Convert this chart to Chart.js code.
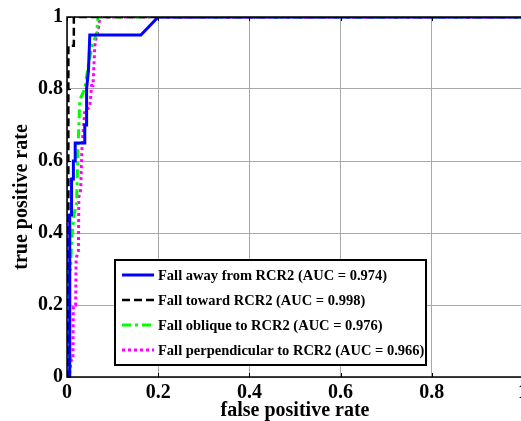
<!DOCTYPE html>
<html>
<head>
<meta charset="utf-8">
<script src="https://cdn.jsdelivr.net/npm/chart.js@4.4.0/dist/chart.umd.min.js"></script>
<style>
  html, body { margin: 0; padding: 0; background: #fff; overflow: hidden; }
  #wrap { width: 521px; height: 421px; overflow: hidden; position: relative; }
  canvas { display: block; }
</style>
</head>
<body>
<div id="wrap"><canvas id="roc" width="527" height="421"></canvas></div>
<script>
// ROC curves
var awayFpr = [0, 0.006, 0.006, 0.01, 0.01, 0.014, 0.014, 0.018, 0.018, 0.039, 0.039, 0.043, 0.043, 0.047, 0.05, 0.162, 0.2, 1];
var awayTpr = [0, 0, 0.45, 0.45, 0.55, 0.55, 0.6, 0.6, 0.65, 0.65, 0.7, 0.7, 0.8, 0.85, 0.95, 0.95, 1, 1];

var towardFpr = [0, 0.003, 0.003, 0.015, 0.015, 1];
var towardTpr = [0, 0, 0.92, 0.92, 1, 1];

var obliqueFpr = [0, 0.003, 0.003, 0.008, 0.01, 0.015, 0.021, 0.024, 0.028, 0.039, 0.046, 0.055, 0.065, 0.068, 1];
var obliqueTpr = [0, 0.05, 0.29, 0.3, 0.38, 0.45, 0.48, 0.63, 0.77, 0.8, 0.86, 0.92, 0.955, 1, 1];

var perpFpr = [0, 0.006, 0.006, 0.01, 0.013, 0.014, 0.019, 0.02, 0.025, 0.026, 0.03, 0.033, 0.039, 0.05, 0.054, 0.057, 0.061, 0.065, 0.068, 0.072, 1];
var perpTpr = [0, 0, 0.02, 0.05, 0.05, 0.2, 0.2, 0.33, 0.35, 0.5, 0.52, 0.64, 0.74, 0.75, 0.81, 0.81, 0.92, 0.95, 0.96, 1, 1];

var seriesLabels = [
    'Fall away from RCR2 (AUC = 0.974)',
    'Fall toward RCR2 (AUC = 0.998)',
    'Fall oblique to RCR2 (AUC = 0.976)',
    'Fall perpendicular to RCR2 (AUC = 0.966)'
];
var tickValues = [0, 0.2, 0.4, 0.6, 0.8, 1];

function pts(xs, ys) {
    return xs.map(function(x, i) { return { x: x, y: ys[i] }; });
}

var serif = '"Liberation Serif", "Times New Roman", serif';

// black box around the plot, inward ticks and the legend inside the plot
var framePlugin = {
    id: 'frame',
    afterDraw: function(chart) {
        var ctx = chart.ctx;
        var a = chart.chartArea;
        var xs = chart.scales.x, ys = chart.scales.y;
        ctx.save();
        ctx.strokeStyle = '#000';
        ctx.lineWidth = 1.5;
        ctx.strokeRect(a.left, a.top, a.right - a.left, a.bottom - a.top);
        ctx.lineWidth = 1;
        ctx.beginPath();
        tickValues.forEach(function(v) {
            var px = Math.round(xs.getPixelForValue(v)) + 0.5;
            ctx.moveTo(px, a.bottom); ctx.lineTo(px, a.bottom - 4);
            ctx.moveTo(px, a.top); ctx.lineTo(px, a.top + 4);
            var py = Math.round(ys.getPixelForValue(v)) + 0.5;
            ctx.moveTo(a.left, py); ctx.lineTo(a.left + 4, py);
        });
        ctx.stroke();

        // legend
        var bx = 115, by = 260, bw = 311, bh = 105;
        ctx.fillStyle = '#fff';
        ctx.fillRect(bx, by, bw, bh);
        ctx.lineWidth = 2;
        ctx.strokeStyle = '#000';
        ctx.strokeRect(bx, by, bw, bh);
        ctx.font = 'bold 14.5px ' + serif;
        ctx.textBaseline = 'middle';
        chart.data.datasets.forEach(function(ds, i) {
            var yy = by + 15 + i * 25;
            ctx.save();
            ctx.strokeStyle = ds.borderColor;
            ctx.lineWidth = ds.borderWidth;
            ctx.setLineDash(ds.borderDash || []);
            ctx.beginPath();
            ctx.moveTo(122, yy);
            ctx.lineTo(154, yy);
            ctx.stroke();
            ctx.restore();
            ctx.fillStyle = '#000';
            ctx.fillText(ds.label, 158, yy + 1);
        });
        ctx.restore();
    }
};

function fmt(v) { return String(v); }

const ctx = document.getElementById('roc').getContext('2d');
const rocChart = new Chart(ctx, {
    type: 'scatter',
    data: {
        datasets: [{
            label: seriesLabels[0],
            data: pts(awayFpr, awayTpr),
            borderColor: '#0000ff',
            borderWidth: 3
        }, {
            label: seriesLabels[1],
            data: pts(towardFpr, towardTpr),
            borderColor: '#000000',
            borderWidth: 2.5,
            borderDash: [8, 4]
        }, {
            label: seriesLabels[2],
            data: pts(obliqueFpr, obliqueTpr),
            borderColor: '#00ff00',
            borderWidth: 3,
            borderDash: [9, 4, 3, 4]
        }, {
            label: seriesLabels[3],
            data: pts(perpFpr, perpTpr),
            borderColor: '#ff00ff',
            borderWidth: 3,
            borderDash: [3, 3]
        }]
    },
    options: {
        responsive: false,
        animation: false,
        devicePixelRatio: 1,
        showLine: true,
        elements: {
            point: { radius: 0, hoverRadius: 0 },
            line: { tension: 0, fill: false }
        },
        // canvas is a bit wider than the page so the right edge is cut off, like the original
        layout: { padding: { top: 17, right: 4, left: 0, bottom: 0 } },
        plugins: {
            legend: { display: false },
            tooltip: { enabled: false }
        },
        scales: {
            x: {
                type: 'linear',
                min: 0,
                max: 1,
                afterBuildTicks: function(scale) {
                    scale.ticks = tickValues.map(function(v) { return { value: v }; });
                },
                afterFit: function(scale) {
                    scale.height = 44;
                    scale.paddingRight = 0;
                    scale.paddingLeft = 0;
                },
                grid: { color: '#a8a8a8', lineWidth: 1, drawTicks: false },
                border: { display: false },
                ticks: {
                    color: '#000',
                    padding: 4,
                    maxRotation: 0,
                    callback: fmt,
                    font: { family: serif, size: 20, weight: 'bold' }
                },
                title: {
                    display: true,
                    text: 'false positive rate',
                    color: '#000',
                    font: { family: serif, size: 20, weight: 'bold', lineHeight: 1 },
                    padding: { top: 0, bottom: 0 }
                }
            },
            y: {
                type: 'linear',
                min: 0,
                max: 1,
                afterBuildTicks: function(scale) {
                    scale.ticks = tickValues.map(function(v) { return { value: v }; });
                },
                afterFit: function(scale) { scale.width = 67; },
                grid: { color: '#a8a8a8', lineWidth: 1, drawTicks: false },
                border: { display: false },
                ticks: {
                    color: '#000',
                    padding: 4,
                    callback: fmt,
                    font: { family: serif, size: 20, weight: 'bold' }
                },
                title: {
                    display: true,
                    text: 'true positive rate',
                    color: '#000',
                    font: { family: serif, size: 20, weight: 'bold', lineHeight: 1 },
                    padding: { top: 12, bottom: 0 }
                }
            }
        }
    },
    plugins: [framePlugin]
});
</script>
</body>
</html>
